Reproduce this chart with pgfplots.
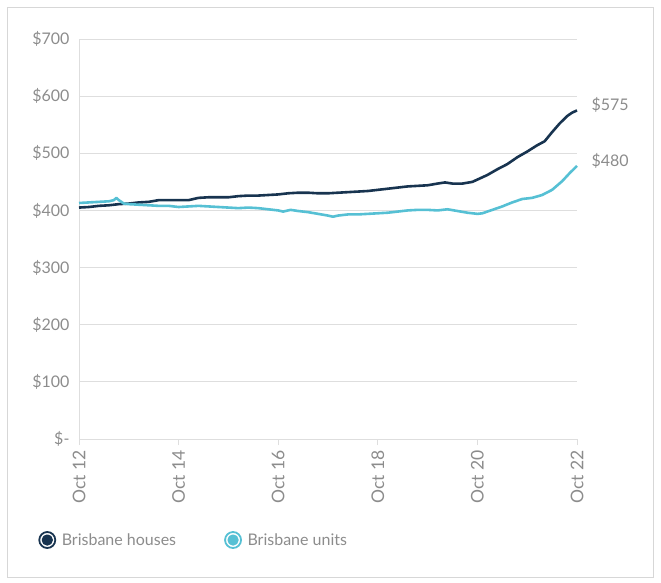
\documentclass[border=0pt]{standalone}
\usepackage{pgfplots}
\pgfplotsset{compat=1.18}
\usepackage{fontspec}
\setmainfont{Lato}
\definecolor{house}{RGB}{24,52,80}
\definecolor{unit}{RGB}{86,192,212}
\definecolor{lbl}{RGB}{140,140,140}
\definecolor{grd}{RGB}{222,222,222}
\definecolor{frm}{RGB}{215,215,215}
\begin{document}
\begin{tikzpicture}
\path (0pt,0pt) rectangle (661pt,-583pt);
\draw[frm, line width=0.8pt] (7pt,-7pt) rectangle (653pt,-577pt);
\begin{axis}[
  at={(79pt,-439pt)}, anchor=south west,
  scale only axis, width=498pt, height=400pt,
  xmin=0, xmax=10, ymin=0, ymax=700,
  clip=false,
  xtick={0,2,4,6,8,10},
  xticklabels={Oct 12,Oct 14,Oct 16,Oct 18,Oct 20,Oct 22},
  x tick label style={rotate=90, anchor=east, xshift=-2pt, font=\fontsize{17.5}{17.5}\selectfont},
  y tick label style={xshift=-6pt},
  ytick={0,100,200,300,400,500,600,700},
  yticklabels={\$-,\$100,\$200,\$300,\$400,\$500,\$600,\$700},
  ymajorgrids, grid style={grd, line width=0.9pt},
  axis x line*=bottom, axis y line*=left,
  axis line style={grd, line width=0.9pt, -},
  xtick align=outside, major tick length=6pt,
  xtick style={grd, line width=0.9pt},
  ytick style={draw=none},
  tick label style={font=\fontsize{16}{16}\selectfont, text=lbl},
  legend columns=2,
  legend style={draw=none, fill=none, at={(-0.088,-0.2525)}, anchor=west,
    font=\fontsize{16}{16}\selectfont, text=lbl,
    /tikz/every even column/.append style={column sep=46pt}},
  legend cell align=left,
]
\addplot[house, line width=2.6pt, line join=round,
  legend image code/.code={\path[draw=none,fill=none] (0pt,0pt) -- (21pt,0pt); \draw[house, line width=1.8pt, fill=white] (8.5pt,0pt) circle (8pt); \fill[house] (8.5pt,0pt) circle (4.3pt);}]
coordinates {
(0,405) (0.2,406) (0.4,408) (0.6,409) (0.8,411) (1.0,412) (1.2,414) (1.4,415) (1.6,418) (1.8,418)
(2.0,418) (2.2,418) (2.4,422) (2.6,423) (2.8,423) (3.0,423) (3.2,425) (3.4,426) (3.6,426) (3.8,427)
(4.0,428) (4.2,430) (4.4,431) (4.6,431) (4.8,430) (5.0,430) (5.2,431) (5.4,432) (5.6,433) (5.8,434)
(6.0,436) (6.2,438) (6.4,440) (6.6,442) (6.8,443) (7.0,444) (7.2,447) (7.35,449) (7.5,447) (7.7,447)
(7.9,450) (8.05,456) (8.2,462) (8.4,472) (8.6,481) (8.8,493) (9.0,503) (9.2,514) (9.35,521) (9.5,537)
(9.65,552) (9.8,565) (9.9,571) (10,575)
};
\addlegendentry{Brisbane houses}
\addplot[unit, line width=2.6pt, line join=round,
  legend image code/.code={\path[draw=none,fill=none] (0pt,0pt) -- (21pt,0pt); \draw[unit, line width=1.8pt, fill=white] (8.5pt,0pt) circle (8pt); \fill[unit] (8.5pt,0pt) circle (4.3pt);}]
coordinates {
(0,413) (0.2,414) (0.4,415) (0.6,416) (0.7,418) (0.75,422) (0.8,418) (0.9,412) (1.0,411) (1.2,410)
(1.4,409) (1.6,408) (1.8,408) (2.0,406) (2.2,407) (2.4,408) (2.6,407) (2.8,406) (3.0,405) (3.2,404)
(3.4,405) (3.6,404) (3.8,402) (4.0,400) (4.1,398) (4.25,401) (4.4,399) (4.6,397) (4.8,394) (5.0,391)
(5.1,389) (5.2,391) (5.4,393) (5.6,393) (5.8,394) (6.0,395) (6.2,396) (6.4,398) (6.6,400) (6.8,401)
(7.0,401) (7.2,400) (7.4,402) (7.6,399) (7.8,396) (8.0,394) (8.1,395) (8.3,401) (8.5,407) (8.7,414)
(8.9,420) (9.1,422) (9.3,427) (9.5,436) (9.7,451) (9.85,465) (10,478)
};
\addlegendentry{Brisbane units}
\node[anchor=west, text=lbl, font=\fontsize{16}{16}\selectfont, xshift=11pt] at (axis cs:10,585) {\$575};
\node[anchor=west, text=lbl, font=\fontsize{16}{16}\selectfont, xshift=11pt] at (axis cs:10,487) {\$480};
\end{axis}
\end{tikzpicture}
\end{document}
